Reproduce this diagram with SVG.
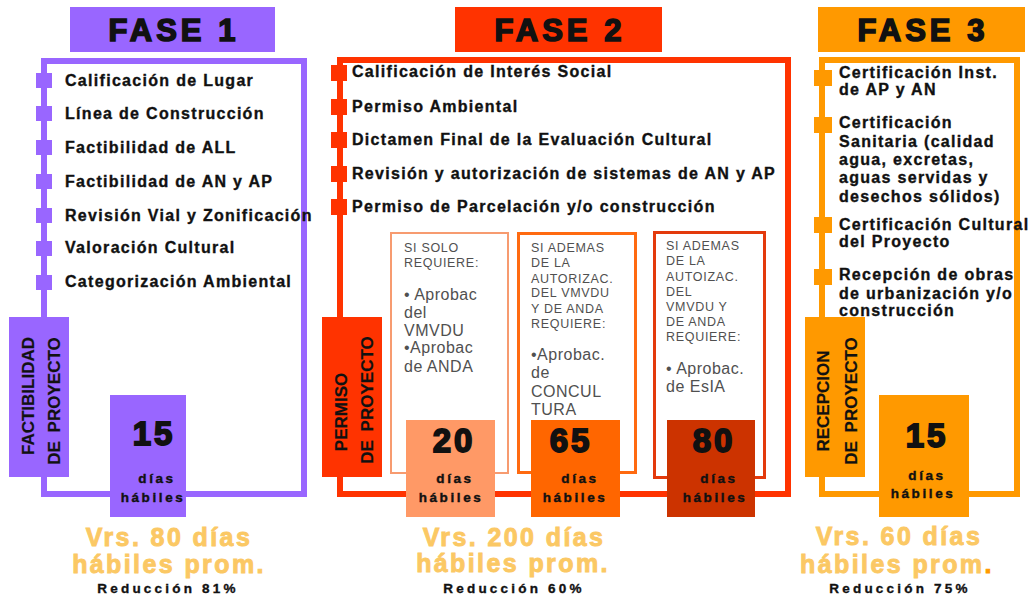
<svg xmlns="http://www.w3.org/2000/svg" width="1032" height="598" viewBox="0 0 1032 598">
<defs>
<style>
text{font-family:"Liberation Sans",Arial,sans-serif;}
.title{font-size:31px;font-weight:bold;letter-spacing:4px;fill:#111;stroke:#111;stroke-width:1.6;text-anchor:middle;}
.item{font-size:16px;font-weight:bold;letter-spacing:1.3px;fill:#111;stroke:#111;stroke-width:0.35;}
.vlab{font-size:17px;font-weight:bold;fill:#111;text-anchor:middle;word-spacing:4px;stroke:#111;stroke-width:0.2;}
.num{font-size:33px;font-weight:bold;letter-spacing:3px;fill:#111;stroke:#111;stroke-width:1.8;text-anchor:middle;}
.dias{font-size:13.5px;font-weight:bold;letter-spacing:2.6px;fill:#111;stroke:#111;stroke-width:0.4;text-anchor:middle;}
.vrs{font-size:25px;font-weight:bold;letter-spacing:2.4px;fill:#FBC864;stroke:#FBC864;stroke-width:0.9;text-anchor:middle;}
.red{font-size:13.5px;font-weight:bold;letter-spacing:3.2px;fill:#111;stroke:#111;stroke-width:0.35;text-anchor:middle;}
.sm{font-size:12.5px;letter-spacing:0.7px;fill:#505050;}
.bg{font-size:16px;letter-spacing:0.5px;fill:#505050;}
.frame{fill:none;stroke-width:6;}
</style>
</defs>
<rect width="1032" height="598" fill="#fff"/>

<!-- FASE 1 -->
<g id="fase1">
<rect class="frame" x="44" y="61" width="260" height="433" stroke="#9966FF"/>
<rect x="70" y="7" width="205" height="45" fill="#9966FF"/>
<text class="title" x="174" y="41">FASE 1</text>
<g fill="#9966FF">
<rect x="36" y="73" width="16" height="15"/>
<rect x="36" y="106" width="16" height="15"/>
<rect x="36" y="140" width="16" height="15"/>
<rect x="36" y="174" width="16" height="15"/>
<rect x="36" y="208" width="16" height="15"/>
<rect x="36" y="241" width="16" height="15"/>
<rect x="36" y="275" width="16" height="15"/>
</g>
<text class="item" x="65" y="86">Calificación de Lugar</text>
<text class="item" x="65" y="119">Línea de Construcción</text>
<text class="item" x="65" y="153">Factibilidad de ALL</text>
<text class="item" x="65" y="187">Factibilidad de AN y AP</text>
<text class="item" x="65" y="221">Revisión Vial y Zonificación</text>
<text class="item" x="65" y="253">Valoración Cultural</text>
<text class="item" x="65" y="287">Categorización Ambiental</text>
</g>
<g id="fase1-label">
<rect x="9" y="317" width="60" height="160" fill="#9966FF"/>
<text class="vlab" transform="translate(34,396) rotate(-90)">FACTIBILIDAD</text>
<text class="vlab" transform="translate(60,401) rotate(-90)">DE PROYECTO</text>
</g>
<g id="fase1-dias">
<rect x="110" y="395" width="76" height="122" fill="#9966FF"/>
<text class="num" x="154" y="445">15</text>
<text class="dias" x="157" y="483">días</text>
<text class="dias" x="153" y="502">hábiles</text>
</g>
<g id="fase1-resumen">
<text class="vrs" x="169" y="546">Vrs. 80 días</text>
<text class="vrs" x="169" y="573">hábiles prom.</text>
<text class="red" x="168" y="593">Reducción 81%</text>
</g>

<!-- FASE 2 -->
<g id="fase2">
<rect class="frame" x="340" y="60" width="448" height="434" stroke="#FF3300"/>
<rect x="455" y="7" width="207" height="45" fill="#FF3300"/>
<text class="title" x="560" y="41">FASE 2</text>
<g fill="#FF3300">
<rect x="331" y="65" width="16" height="16"/>
<rect x="331" y="99" width="16" height="16"/>
<rect x="331" y="132" width="16" height="16"/>
<rect x="331" y="166" width="16" height="16"/>
<rect x="331" y="199" width="16" height="16"/>
</g>
<text class="item" x="352" y="77">Calificación de Interés Social</text>
<text class="item" x="352" y="112">Permiso Ambiental</text>
<text class="item" x="352" y="145">Dictamen Final de la Evaluación Cultural</text>
<text class="item" x="352" y="179">Revisión y autorización de sistemas de AN y AP</text>
<text class="item" x="352" y="212">Permiso de Parcelación y/o construcción</text>
</g>
<g id="fase2-label">
<rect x="322" y="317" width="60" height="160" fill="#FF3300"/>
<text class="vlab" transform="translate(347,412) rotate(-90)">PERMISO</text>
<text class="vlab" transform="translate(373,400) rotate(-90)">DE PROYECTO</text>
</g>
<g id="fase2-opcionA">
<rect x="391" y="233" width="117" height="240" fill="#fff" stroke="#F79B70" stroke-width="2"/>
<text class="sm" x="404" y="252">SI SOLO</text>
<text class="sm" x="404" y="267">REQUIERE:</text>
<text class="bg" x="404" y="300">• Aprobac</text>
<text class="bg" x="404" y="318">del</text>
<text class="bg" x="404" y="336">VMVDU</text>
<text class="bg" x="404" y="353">•Aprobac</text>
<text class="bg" x="404" y="372">de ANDA</text>
<rect x="406" y="420" width="89" height="97" fill="#FF9966"/>
<text class="num" x="454" y="452">20</text>
<text class="dias" x="455" y="483">días</text>
<text class="dias" x="451" y="502">hábiles</text>
</g>
<g id="fase2-opcionB">
<rect x="518.5" y="233.5" width="117" height="239" fill="#fff" stroke="#FF6A10" stroke-width="3"/>
<text class="sm" x="531" y="252">SI ADEMAS</text>
<text class="sm" x="531" y="267">DE LA</text>
<text class="sm" x="531" y="283">AUTORIZAC.</text>
<text class="sm" x="531" y="297">DEL VMVDU</text>
<text class="sm" x="531" y="313">Y DE ANDA</text>
<text class="sm" x="531" y="328">REQUIERE:</text>
<text class="bg" x="531" y="360">•Aprobac.</text>
<text class="bg" x="531" y="378">de</text>
<text class="bg" x="531" y="397">CONCUL</text>
<text class="bg" x="531" y="415">TURA</text>
<rect x="531" y="420" width="89" height="97" fill="#FF6600"/>
<text class="num" x="571" y="452">65</text>
<text class="dias" x="580" y="483">días</text>
<text class="dias" x="575" y="502">hábiles</text>
</g>
<g id="fase2-opcionC">
<rect x="654.5" y="232.5" width="110" height="245" fill="#fff" stroke="#E33A0C" stroke-width="3"/>
<text class="sm" x="666" y="250">SI ADEMAS</text>
<text class="sm" x="666" y="265">DE LA</text>
<text class="sm" x="666" y="281">AUTOIZAC.</text>
<text class="sm" x="666" y="296">DEL</text>
<text class="sm" x="666" y="311">VMVDU Y</text>
<text class="sm" x="666" y="326">DE ANDA</text>
<text class="sm" x="666" y="341">REQUIERE:</text>
<text class="bg" x="666" y="374">• Aprobac.</text>
<text class="bg" x="666" y="392">de EsIA</text>
<rect x="667" y="420" width="88" height="97" fill="#CC3300"/>
<text class="num" x="714" y="452">80</text>
<text class="dias" x="719" y="483">días</text>
<text class="dias" x="715" y="502">hábiles</text>
</g>
<g id="fase2-resumen">
<text class="vrs" x="514" y="546">Vrs. 200 días</text>
<text class="vrs" x="513" y="572">hábiles prom.</text>
<text class="red" x="514" y="593">Reducción 60%</text>
</g>

<!-- FASE 3 -->
<g id="fase3">
<rect class="frame" x="822" y="60" width="195" height="434" stroke="#FF9900"/>
<rect x="818" y="7" width="207" height="45" fill="#FF9900"/>
<text class="title" x="923" y="41">FASE 3</text>
<g fill="#FF9900">
<rect x="814" y="70" width="18" height="16"/>
<rect x="814" y="117" width="18" height="16"/>
<rect x="814" y="217" width="18" height="16"/>
<rect x="814" y="269" width="18" height="16"/>
</g>
<text class="item" x="839" y="78">Certificación Inst.</text>
<text class="item" x="839" y="95">de AP y AN</text>
<text class="item" x="839" y="128">Certificación</text>
<text class="item" x="839" y="147">Sanitaria (calidad</text>
<text class="item" x="839" y="165">agua, excretas,</text>
<text class="item" x="839" y="183">aguas servidas y</text>
<text class="item" x="839" y="202">desechos sólidos)</text>
<text class="item" x="839" y="230">Certificación Cultural</text>
<text class="item" x="839" y="247">del Proyecto</text>
<text class="item" x="839" y="280">Recepción de obras</text>
<text class="item" x="839" y="299">de urbanización y/o</text>
<text class="item" x="839" y="316">construcción</text>
</g>
<g id="fase3-label">
<rect x="805" y="317" width="60" height="160" fill="#FF9900"/>
<text class="vlab" transform="translate(829,401) rotate(-90)">RECEPCION</text>
<text class="vlab" transform="translate(857,401) rotate(-90)">DE PROYECTO</text>
</g>
<g id="fase3-dias">
<rect x="879" y="395" width="90" height="122" fill="#FF9900"/>
<text class="num" x="927" y="447">15</text>
<text class="dias" x="927" y="480">días</text>
<text class="dias" x="923" y="498">hábiles</text>
</g>
<g id="fase3-resumen">
<text class="vrs" x="899" y="545">Vrs. 60 días</text>
<text class="vrs" x="897" y="573">hábiles prom<tspan fill="#FF9900" stroke="#FF9900">.</tspan></text>
<text class="red" x="900" y="593">Reducción 75%</text>
</g>
</svg>
